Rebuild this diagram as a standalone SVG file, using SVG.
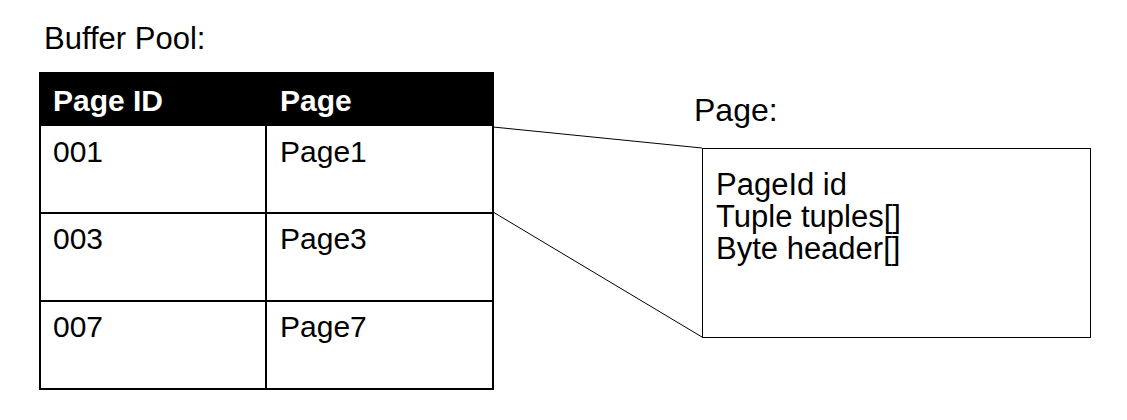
<svg xmlns="http://www.w3.org/2000/svg" width="1127" height="420" viewBox="0 0 1127 420">
<style>
text{font-family:"Liberation Sans",Arial,sans-serif;font-size:30px;fill:#000}
.hd{font-weight:bold;fill:#fff}
.lbl{font-size:31px}
.big{font-size:32px}
.grid{stroke:#000;stroke-width:2;fill:none}
.conn{stroke:#000;stroke-width:1;fill:none}
</style>
<rect width="1127" height="420" fill="#fff"/>
<text class="lbl" x="44" y="49">Buffer Pool:</text>
<g id="buffer-pool">
<rect x="40" y="73" width="453" height="53" fill="#000"/>
<text class="hd" x="53" y="111">Page ID</text>
<text class="hd" x="280" y="111">Page</text>
<rect class="grid" x="40" y="73" width="453" height="316"/>
<line class="grid" x1="266" y1="126" x2="266" y2="389"/>
<line class="grid" x1="40" y1="213" x2="493" y2="213"/>
<line class="grid" x1="40" y1="301" x2="493" y2="301"/>
<text x="53" y="162">001</text>
<text x="280" y="162">Page1</text>
<text x="53" y="249">003</text>
<text x="280" y="249">Page3</text>
<text x="53" y="337">007</text>
<text x="280" y="337">Page7</text>
</g>
<g id="connectors">
<line class="conn" x1="493" y1="127" x2="702" y2="148"/>
<line class="conn" x1="493" y1="212" x2="702" y2="337"/>
</g>
<g id="page">
<text class="big" x="694" y="121">Page:</text>
<rect x="702.5" y="148.5" width="388" height="189" fill="none" stroke="#000" stroke-width="1"/>
<text class="lbl" x="716" y="195">PageId id</text>
<text class="lbl" x="716" y="227">Tuple tuples[]</text>
<text class="lbl" x="716" y="259">Byte header[]</text>
</g>
</svg>
